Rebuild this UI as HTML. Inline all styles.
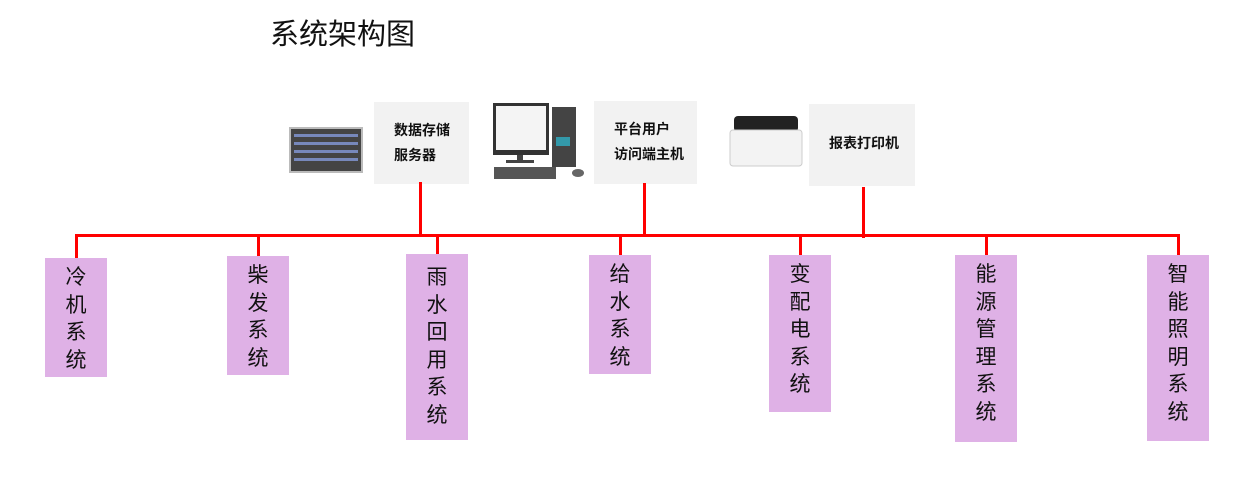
<!DOCTYPE html>
<html><head><meta charset="utf-8"><style>
body{margin:0;width:1256px;height:504px;background:#fff;position:relative;overflow:hidden;font-family:"Liberation Sans","Noto Sans CJK SC",sans-serif}
.a{position:absolute}
.g{position:absolute;background:#f2f2f2;font-size:14px;color:#111;line-height:25px;font-weight:bold}
.p{position:absolute;background:#dfb1e6;width:62px;text-align:center;font-size:21px;line-height:27.5px;color:#111;padding-top:6px;box-sizing:border-box}
.r{position:absolute;background:#f00}
</style></head><body>
<div class="a" style="left:270px;top:11px;font-size:29px;color:#111">系统架构图</div>

<div class="g" style="left:374px;top:102px;width:95px;height:82px;padding:16px 0 0 20px;box-sizing:border-box">数据存储<br>服务器</div>
<div class="g" style="left:594px;top:101px;width:103px;height:83px;padding:16px 0 0 20px;box-sizing:border-box">平台用户<br>访问端主机</div>
<div class="g" style="left:809px;top:104px;width:106px;height:82px;padding:27px 0 0 20px;box-sizing:border-box">报表打印机</div>

<svg class="a" style="left:288px;top:125px" width="80" height="50">
<rect x="2" y="3" width="72" height="44" fill="#444" stroke="#bbb" stroke-width="2"/>
<g fill="#7788bb"><rect x="6" y="9" width="64" height="3"/><rect x="6" y="17" width="64" height="3"/><rect x="6" y="25" width="64" height="3"/><rect x="6" y="33" width="64" height="3"/></g>
</svg>
<svg class="a" style="left:490px;top:102px" width="100" height="80">
<rect x="3" y="1" width="56" height="52" fill="#333"/><rect x="6" y="4" width="50" height="44" fill="#f4f4f4"/>
<rect x="27" y="53" width="6" height="6" fill="#444"/><rect x="16" y="58" width="28" height="3" fill="#444"/>
<rect x="62" y="5" width="24" height="60" fill="#444"/><rect x="66" y="35" width="14" height="9" fill="#39a"/>
<rect x="4" y="65" width="62" height="12" fill="#555"/><ellipse cx="88" cy="71" rx="6" ry="4" fill="#666"/>
</svg>
<svg class="a" style="left:728px;top:112px" width="80" height="60">
<rect x="6" y="4" width="64" height="16" rx="4" fill="#222"/>
<rect x="2" y="18" width="72" height="36" rx="3" fill="#f3f3f3" stroke="#ccc"/>
</svg>

<div class="r" style="left:75px;top:234px;width:1105px;height:3px"></div>
<div class="r" style="left:419px;top:182px;width:3px;height:52px"></div>
<div class="r" style="left:643px;top:183px;width:3px;height:51px"></div>
<div class="r" style="left:862px;top:187px;width:3px;height:51px"></div>
<div class="r" style="left:75px;top:234px;width:3px;height:24px"></div>
<div class="r" style="left:257px;top:234px;width:3px;height:22px"></div>
<div class="r" style="left:436px;top:234px;width:3px;height:20px"></div>
<div class="r" style="left:619px;top:234px;width:3px;height:21px"></div>
<div class="r" style="left:799px;top:234px;width:3px;height:21px"></div>
<div class="r" style="left:985px;top:234px;width:3px;height:21px"></div>
<div class="r" style="left:1177px;top:234px;width:3px;height:21px"></div>

<div class="p" style="left:45px;top:258px;height:119px">冷<br>机<br>系<br>统</div>
<div class="p" style="left:227px;top:256px;height:119px">柴<br>发<br>系<br>统</div>
<div class="p" style="left:406px;top:254px;height:186px;padding-top:10px">雨<br>水<br>回<br>用<br>系<br>统</div>
<div class="p" style="left:589px;top:255px;height:119px">给<br>水<br>系<br>统</div>
<div class="p" style="left:769px;top:255px;height:157px">变<br>配<br>电<br>系<br>统</div>
<div class="p" style="left:955px;top:255px;height:187px">能<br>源<br>管<br>理<br>系<br>统</div>
<div class="p" style="left:1147px;top:255px;height:186px">智<br>能<br>照<br>明<br>系<br>统</div>
</body></html>
